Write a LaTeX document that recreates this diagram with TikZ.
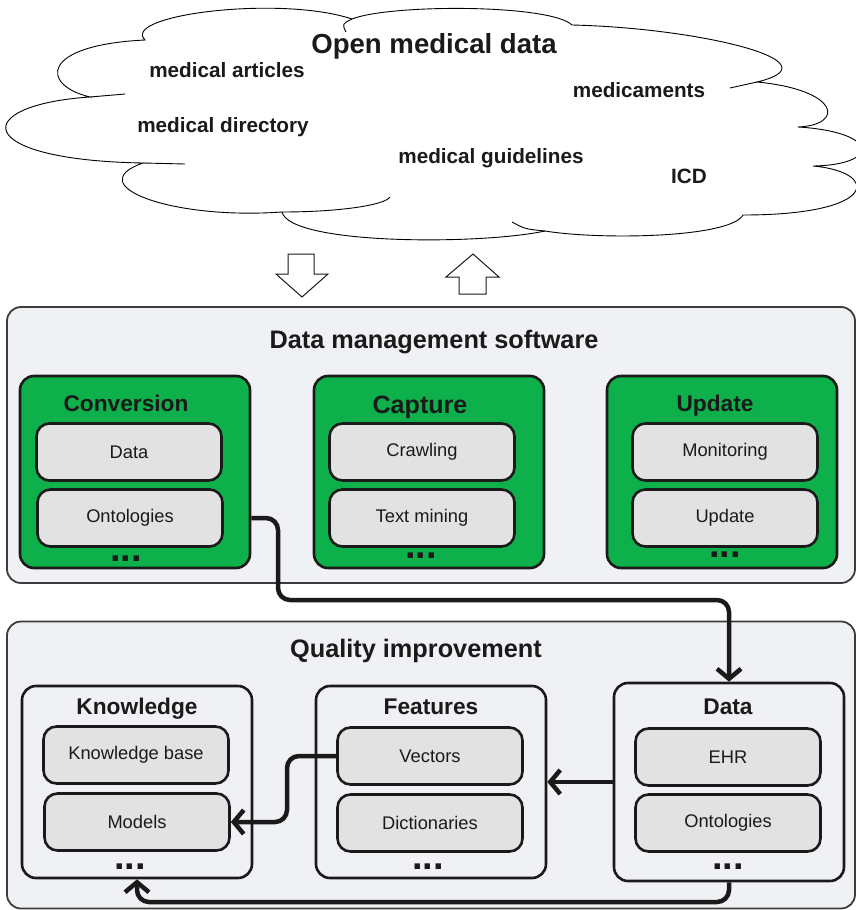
\documentclass[tikz,border=0pt]{standalone}
\usepackage{fontspec}
\setmainfont{Liberation Sans}
\usetikzlibrary{arrows.meta}
\definecolor{panelbg}{HTML}{F0F1F5}
\definecolor{itembg}{HTML}{E2E2E2}
\definecolor{procgreen}{HTML}{0DB04B}
\definecolor{ink}{HTML}{1A1A1A}
\newcommand{\moredots}{{\fontsize{38}{38}\selectfont\bfseries ...}}

\begin{document}
\begin{tikzpicture}[x=1pt, y=-1pt,
  panel/.style={draw=ink!85, line width=1.8pt, fill=panelbg, rounded corners=14pt, inner sep=0pt},
  group/.style={draw=ink, line width=2.6pt, rounded corners=14pt, minimum width=230pt, minimum height=192pt, inner sep=0pt},
  item/.style={draw=ink, line width=2.6pt, fill=itembg, rounded corners=13pt, minimum width=185pt, minimum height=57pt, inner sep=0pt, text=ink, font=\fontsize{18.3}{20}\selectfont},
  paneltitle/.style={anchor=base, text=ink, font=\fontsize{25.3}{27}\selectfont\bfseries},
  grouptitle/.style={anchor=base, text=ink, font=\fontsize{22.7}{24}\selectfont\bfseries},
  cloudtext/.style={anchor=base, text=ink, font=\fontsize{20.7}{22}\selectfont\bfseries},
  dotsrow/.style={anchor=base, text=ink, inner sep=0pt},
  flow/.style={draw=ink, line width=4.5pt, rounded corners=12pt, -{Straight Barb[length=10pt,width=24pt]}},
  ]
  \useasboundingbox (0,0) rectangle (856,910);

  % open data cloud
  \draw[fill=white, line width=0.9pt]
    (90,97) .. controls (40,85) and (40,45) .. (145,40)
    .. controls (120,15) and (280,-5) .. (352,19)
    .. controls (390,4) and (550,4) .. (572,25)
    .. controls (700,28) and (840,62) .. (757,82)
    .. controls (840,90) and (845,125) .. (798,127)
    .. controls (880,132) and (880,165) .. (813,166)
    .. controls (880,172) and (880,215) .. (743,215)
    .. controls (730,238) and (600,240) .. (545,231)
    .. controls (480,245) and (290,245) .. (282,212)
    .. controls (170,220) and (80,185) .. (143,163)
    .. controls (-30,160) and (-30,105) .. (90,97) -- cycle;
  \draw[line width=0.9pt] (90,97) -- (125,94);
  \draw[line width=0.9pt] (143,163) -- (185,164);
  \draw[line width=0.9pt] (352,19) .. controls (342,24) .. (346,32);
  \draw[line width=0.9pt] (757,82) -- (730,88);
  \draw[line width=0.9pt] (545,231) .. controls (525,229) .. (512,222);
  \draw[line width=0.9pt] (282,212) .. controls (340,212) and (385,205) .. (390,197);

  \node[cloudtext, font=\fontsize{27.6}{29}\selectfont\bfseries] (open) at (434,53) {Open medical data};
  \node[cloudtext] (art) at (227,77) {medical articles};
  \node[cloudtext] (drug) at (639,97) {medicaments};
  \node[cloudtext] (dir) at (223,132) {medical directory};
  \node[cloudtext] (guide) at (491,163) {medical guidelines};
  \node[cloudtext] (icd) at (689,183) {ICD};

  % exchange arrows
  \draw[draw=ink, line width=1pt, fill=white] (288,254) -- (314,254) -- (314,274) -- (328,274) -- (302,297) -- (276,274) -- (288,274) -- cycle;
  \draw[draw=ink, line width=1pt, fill=white] (473,254) -- (499,277) -- (486,277) -- (486,294) -- (459,294) -- (459,277) -- (446,277) -- cycle;

  % data management software
  \node[panel, minimum width=848pt, minimum height=276pt] (dms) at (431,445) {};
  \node[paneltitle] (dmst) at (434,348) {Data management software};

  \node[group, fill=procgreen] (conv) at (135,472) {};
  \node[grouptitle] (convt) at (126,411) {Conversion};
  \node[item] (cv1) at (129,452) {Data};
  \node[item] (cv2) at (130,518) {Ontologies};
  \node[dotsrow] (cv3) at (126,561) {\moredots};

  \node[group, fill=procgreen] (capt) at (429,472) {};
  \node[grouptitle, font=\fontsize{25.1}{27}\selectfont\bfseries] (captt) at (420,413) {Capture};
  \node[item] (ca1) at (422,452) {Crawling};
  \node[item] (ca2) at (422,518) {Text mining};
  \node[dotsrow] (ca3) at (421,558) {\moredots};

  \node[group, fill=procgreen] (upd) at (722,472) {};
  \node[grouptitle] (updt) at (715,411) {Update};
  \node[item] (up1) at (725,452) {Monitoring};
  \node[item] (up2) at (725,518) {Update};
  \node[dotsrow] (up3) at (725,557) {\moredots};

  % quality improvement
  \node[panel, minimum width=848pt, minimum height=287pt] (qi) at (431,765) {};
  \node[paneltitle] (qit) at (416,657) {Quality improvement};

  \node[group, fill=panelbg] (know) at (137,782) {};
  \node[grouptitle] (knowt) at (137,714) {Knowledge};
  \node[item] (kn1) at (136,755) {Knowledge base};
  \node[item] (kn2) at (137,822) {Models};
  \node[dotsrow] (kn3) at (130,869) {\moredots};

  \node[group, fill=panelbg] (feat) at (431,782) {};
  \node[grouptitle] (featt) at (431,714) {Features};
  \node[item] (fe1) at (430,756) {Vectors};
  \node[item] (fe2) at (430,823) {Dictionaries};
  \node[dotsrow] (fe3) at (428,869) {\moredots};

  \node[group, fill=panelbg, minimum height=198pt] (qdata) at (729,782) {};
  \node[grouptitle] (qdatat) at (728,714) {Data};
  \node[item] (qd1) at (728,757) {EHR};
  \node[item] (qd2) at (728,823) {Ontologies};
  \node[dotsrow] (qd3) at (728,869) {\moredots};

  % flows
  \coordinate (bend1) at (278,600);
  \coordinate (bend2) at (287,790);
  \coordinate (bend3) at (431,902);
  \draw[flow] (conv.east |- cv2.east) -| (bend1) -| (qdata.north);
  \draw[flow] (qdata.west) -- (feat.east);
  \draw[flow] (fe1.west) -| (bend2) |- (kn2.east);
  \draw[flow] (qdata.south) |- (bend3) -| (know.south);
\end{tikzpicture}
\end{document}
